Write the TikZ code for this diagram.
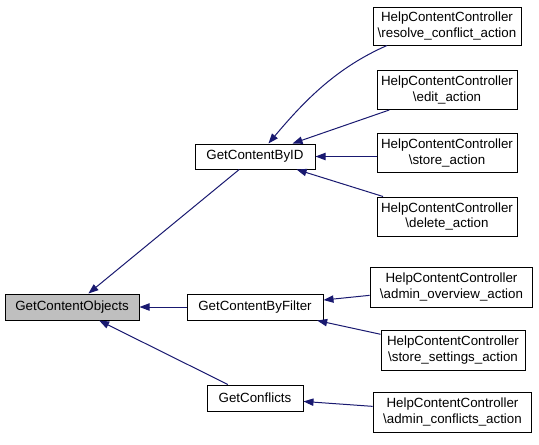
\documentclass[tikz,border=0pt]{standalone}
\usepackage{fontspec}
\setmainfont{Liberation Sans}
\usetikzlibrary{arrows.meta}
\definecolor{callblue}{RGB}{25,25,112}
\definecolor{curgray}{RGB}{191,191,191}
\tikzset{every picture/.style={line width=0.75pt}}
\tikzset{
  fn/.style={draw=black, fill=white, inner sep=0.75pt, align=center,
    font=\fontsize{10}{11.5}\selectfont},
  call/.style={draw=callblue, -{Triangle[length=7.5pt,width=5.5pt]}, fill=none}
}

\begin{document}
\begin{tikzpicture}[x=0.75pt,y=0.75pt,yscale=-1,xscale=1]
\useasboundingbox (0,0) rectangle (539,444);

% Function Nodes
\node [fn, fill=curgray, minimum width=100.5pt, minimum height=19.5pt] (objects) at (72,307) {GetContentObjects};
\node [fn, minimum width=90pt, minimum height=18.75pt] (byid) at (255,156.5) {GetContentByID};
\node [fn, minimum width=102pt, minimum height=19.5pt] (byfilter) at (255,307) {GetContentByFilter};
\node [fn, minimum width=72pt, minimum height=19.5pt] (conflicts) at (255,398) {GetConflicts};

% Caller Nodes
\node [fn, minimum width=111pt, minimum height=28.5pt] (resolve) at (447,26) {HelpContentController\\\textbackslash resolve\_conflict\_action};
\node [fn, minimum width=105pt, minimum height=29.25pt] (edit) at (447,90) {HelpContentController\\\textbackslash edit\_action};
\node [fn, minimum width=105pt, minimum height=29.25pt] (store) at (447,153) {HelpContentController\\\textbackslash store\_action};
\node [fn, minimum width=105pt, minimum height=29.25pt] (delete) at (447,216.5) {HelpContentController\\\textbackslash delete\_action};
\node [fn, minimum width=122pt, minimum height=30pt] (overview) at (451.5,287) {HelpContentController\\\textbackslash admin\_overview\_action};
\node [fn, minimum width=108pt, minimum height=30pt] (settings) at (453,350) {HelpContentController\\\textbackslash store\_settings\_action};
\node [fn, minimum width=119pt, minimum height=30pt] (aconflicts) at (452.5,412) {HelpContentController\\\textbackslash admin\_conflicts\_action};

% Connection
\draw [call] (byid) -- (objects);
\draw [call] (byfilter) -- (objects);
\draw [call] (conflicts) -- (objects);
% Connection
\draw [call] (resolve.198) .. controls +(-50,22) and +(37,-44) .. (byid.44);
\draw [call] (edit) -- (byid);
\draw [call] (store.west |- byid) -- (byid);
\draw [call] (delete) -- (byid);
% Connection
\draw [call] (overview) -- (byfilter);
\draw [call] (settings) -- (byfilter);
\draw [call] (aconflicts) -- (conflicts);

\end{tikzpicture}
\end{document}
